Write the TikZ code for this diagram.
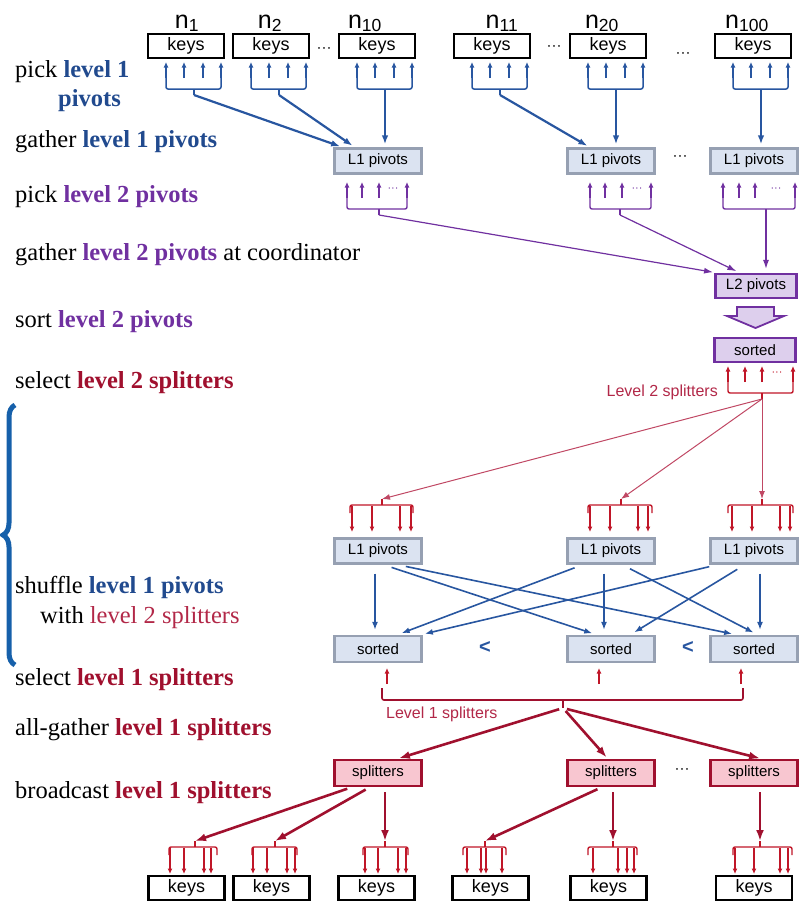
\documentclass[tikz,border=0pt]{standalone}
\usepackage{fontspec}
\setmainfont{Liberation Serif}
\setsansfont{Liberation Sans}
\usetikzlibrary{arrows.meta,decorations.pathreplacing}

\definecolor{pvblue}{RGB}{33,74,142}
\definecolor{arblue}{RGB}{40,86,160}
\definecolor{brblue}{RGB}{22,96,170}
\definecolor{pvpurple}{RGB}{112,48,160}
\definecolor{spred}{RGB}{160,16,46}
\definecolor{arred}{RGB}{192,22,40}
\definecolor{lnred}{RGB}{192,72,100}
\definecolor{sptext}{RGB}{178,40,72}
\definecolor{pvfill}{RGB}{219,227,241}
\definecolor{pvedge}{RGB}{150,160,178}
\definecolor{lvfill}{RGB}{221,207,237}
\definecolor{spfill}{RGB}{248,198,208}

\newcommand{\lvblue}[1]{\textcolor{pvblue}{\textbf{#1}}}
\newcommand{\lvpurple}[1]{\textcolor{pvpurple}{\textbf{#1}}}
\newcommand{\lvred}[1]{\textcolor{spred}{\textbf{#1}}}

% arrows up into a box, tied by a bracket below
\newcommand{\upgroup}[7]{%
  \foreach \x in {#3} \draw[#1, -{Latex[length=5.5pt,width=5pt]}] (\x,#2+16) -- (\x,#2);
  \draw[#1, rounded corners=2pt] (#4,#2+16) -- (#4,#2+27) -- (#5,#2+27) -- (#5,#2+16);
  \draw[#1] (#6,#2+27) -- (#6,#2+33);
  \coordinate (#7) at (#6,#2+33);}

% arrows down into a box, from a bracket above
\newcommand{\downgroup}[7]{%
  \foreach \x in {#3} \draw[#1, -{Latex[length=5.5pt,width=5pt]}] (\x,#2+1) -- (\x,#2+27);
  \draw[#1, rounded corners=2pt] (#4,#2+8) -- (#4,#2) -- (#5,#2) -- (#5,#2+8);
  \draw[#1] (#6,#2) -- (#6,#2-6);
  \coordinate (#7) at (#6,#2-6);}

\begin{document}
\begin{tikzpicture}[x=1pt, y=-1pt,
    keysbox/.style={draw=black, line width=2.4pt, fill=white, minimum width=76pt,
      minimum height=24pt, inner sep=0pt, font=\sffamily\fontsize{18}{18}\selectfont},
    pivbox/.style={draw=pvedge, line width=2.2pt, fill=pvfill, minimum width=87pt,
      minimum height=25pt, inner sep=0pt, font=\sffamily\fontsize{15}{15}\selectfont},
    lvbox/.style={pivbox, draw=pvpurple, fill=lvfill, minimum width=81pt, minimum height=24pt},
    splitbox/.style={pivbox, draw=spred, fill=spfill, minimum height=26pt},
    nlabel/.style={anchor=base, font=\sffamily\fontsize{25}{25}\selectfont},
    stepline/.style={anchor=base west, inner sep=0pt, font=\fontsize{24.5}{26}\selectfont},
    dotsnode/.style={inner sep=0pt, font=\sffamily\fontsize{15}{15}\selectfont},
    toparr/.style={arblue, line width=2.2pt, -{Latex[length=9pt,width=6.5pt]}, shorten >=3pt},
    purparr/.style={pvpurple, line width=1.2pt, -{Latex[length=9pt,width=6pt]}, shorten >=4pt},
    thinarr/.style={lnred, line width=1pt, -{Latex[length=8pt,width=6pt]}},
    crossarr/.style={arblue, line width=1.6pt, -{Latex[length=8pt,width=6pt]},
      shorten <=9pt, shorten >=5pt},
    thickarr/.style={spred, line width=2.6pt, -{Latex[length=11pt,width=8pt]}}]
  \useasboundingbox (0,0) rectangle (799,903);

  % steps on the left
  \node[stepline] (pick1) at (15,77) {pick \lvblue{level 1}};
  \node[stepline] (pick1b) at (58,106) {\lvblue{pivots}};
  \node[stepline] (gather1) at (15,147) {gather \lvblue{level 1 pivots}};
  \node[stepline] (pick2) at (15,202) {pick \lvpurple{level 2 pivots}};
  \node[stepline] (gather2) at (15,260) {gather \lvpurple{level 2 pivots} at coordinator};
  \node[stepline] (sort2) at (15,327) {sort \lvpurple{level 2 pivots}};
  \node[stepline] (select2) at (15,388) {select \lvred{level 2 splitters}};
  \node[stepline] (shuffle) at (15,593) {shuffle \lvblue{level 1 pivots}};
  \node[stepline] (shufflew) at (40,623) {with \textcolor{sptext}{level 2 splitters}};
  \node[stepline] (select1) at (15,685) {select \lvred{level 1 splitters}};
  \node[stepline] (allgather) at (15,735) {all-gather \lvred{level 1 splitters}};
  \node[stepline] (bcast) at (15,798) {broadcast \lvred{level 1 splitters}};
  \draw[brblue, line width=5pt, decorate, decoration={brace, amplitude=12pt, aspect=0.5}]
    (15,665) -- (15,405);

  % keys and level 1 pivots
  \foreach \c [count=\i] in {186,271,377,492,608,753} {
    \node[keysbox] (k\i) at (\c,46) {keys};
    \upgroup{arblue, line width=1.5pt}{62}{\c-20,\c-2,\c+17,\c+35}{\c-20}{\c+35}{\c+8}{g\i}
  }
  \node[nlabel] (n1) at (187,28) {n\textsubscript{1}};
  \node[nlabel] (n2) at (270,28) {n\textsubscript{2}};
  \node[nlabel] (n10) at (365,28) {n\textsubscript{10}};
  \node[nlabel] (n11) at (502,28) {n\textsubscript{11}};
  \node[nlabel] (n20) at (602,28) {n\textsubscript{20}};
  \node[nlabel] (n100) at (747,28) {n\textsubscript{100}};
  \node[dotsnode] (kd1) at (324,50) {···};
  \node[dotsnode] (kd2) at (554,48) {···};
  \node[dotsnode] (kd3) at (683,55) {···};

  \node[pivbox] (p1) at (378,161) {L1 pivots};
  \node[pivbox] (p2) at (611,161) {L1 pivots};
  \node[pivbox] (p3) at (754,161) {L1 pivots};
  \node[dotsnode] (pd) at (680,158) {···};
  \draw[toparr] (g1) -- ([xshift=-35pt]p1.north);
  \draw[toparr] (g2) -- ([xshift=-23pt]p1.north);
  \draw[toparr] (g3) -- ([xshift=7pt]p1.north);
  \draw[toparr] (g4) -- ([xshift=-21pt]p2.north);
  \draw[toparr] (g5) -- ([xshift=5pt]p2.north);
  \draw[toparr] (g6) -- ([xshift=7pt]p3.north);

  % level 2 pivots
  \upgroup{pvpurple, line width=1.4pt}{182}{347,362,379,407}{347}{407}{379}{h1}
  \upgroup{pvpurple, line width=1.4pt}{182}{590,605,622,651}{590}{651}{620}{h2}
  \upgroup{pvpurple, line width=1.4pt}{182}{723,739,755,795}{723}{795}{766}{h3}
  \node[dotsnode, pvpurple, font=\sffamily\fontsize{11}{11}\selectfont] (hd1) at (393,190) {···};
  \node[dotsnode, pvpurple, font=\sffamily\fontsize{11}{11}\selectfont] (hd2) at (637,190) {···};
  \node[dotsnode, pvpurple, font=\sffamily\fontsize{11}{11}\selectfont] (hd3) at (776,190) {···};

  \node[lvbox] (l2) at (756,286) {L2 pivots};
  \draw[purparr] (h1) -- ([xshift=-39pt]l2.north);
  \draw[purparr] (h2) -- ([xshift=-16pt]l2.north);
  \draw[purparr] (h3) -- ([xshift=10pt]l2.north);
  \draw[pvpurple, line width=1.8pt, fill=lvfill]
    (737,307) -- (774,307) -- (774,316) -- (784,316) -- (755.5,328) -- (727,316) -- (737,316) -- cycle;
  \node[lvbox] (srt) at (755,350) {sorted};

  % level 2 splitters
  \upgroup{arred, line width=1.4pt}{366}{728,745,762,793}{728}{793}{762}{spl2}
  \node[dotsnode, arred, font=\sffamily\fontsize{11}{11}\selectfont] (sd) at (777,374) {···};
  \node[anchor=east, inner sep=0pt, text=sptext, font=\sffamily\fontsize{16}{16}\selectfont]
    (l2txt) at (718,392) {Level 2 splitters};

  \downgroup{arred, line width=1.4pt}{505}{352,372,400,411}{350}{413}{382}{r1}
  \downgroup{arred, line width=1.4pt}{505}{590,610,638,648}{588}{652}{621}{r2}
  \downgroup{arred, line width=1.4pt}{505}{732,752,780,790}{728}{793}{762}{r3}
  \draw[thinarr] (spl2) -- (r1);
  \draw[thinarr] (spl2) -- (r2);
  \draw[thinarr] (spl2) -- (r3);

  % shuffle
  \node[pivbox] (q1) at (378,551) {L1 pivots};
  \node[pivbox] (q2) at (611,551) {L1 pivots};
  \node[pivbox] (q3) at (754,551) {L1 pivots};
  \node[pivbox, minimum height=26pt] (s1) at (378,649) {sorted};
  \node[pivbox, minimum height=26pt] (s2) at (611,649) {sorted};
  \node[pivbox, minimum height=26pt] (s3) at (754,649) {sorted};
  \node[text=arblue, font=\sffamily\bfseries\fontsize{20}{20}\selectfont] (lt1) at (485,647) {<};
  \node[text=arblue, font=\sffamily\bfseries\fontsize{20}{20}\selectfont] (lt2) at (688,647) {<};
  \draw[crossarr] ([xshift=-3pt]q1.south) -- ([xshift=-3pt]s1.north);
  \draw[crossarr] ([xshift=5pt]q1.south) -- ([xshift=-14pt]s2.north);
  \draw[crossarr] ([xshift=19pt]q1.south) -- ([xshift=-17pt]s3.north);
  \draw[crossarr] ([xshift=-28pt]q2.south) -- ([xshift=19pt]s1.north);
  \draw[crossarr] ([xshift=-7pt]q2.south) -- ([xshift=-7pt]s2.north);
  \draw[crossarr] ([xshift=11pt]q2.south) -- ([xshift=4pt]s3.north);
  \draw[crossarr] ([xshift=-36pt]q3.south) -- ([xshift=42pt]s1.north);
  \draw[crossarr] ([xshift=-9pt]q3.south) -- ([xshift=19pt]s2.north);
  \draw[crossarr] ([xshift=6pt]q3.south) -- ([xshift=6pt]s3.north);

  % level 1 splitters
  \foreach \x in {387,599,741}
    \draw[arred, line width=1.4pt, -{Latex[length=5.5pt,width=5pt]}] (\x,684) -- (\x,668);
  \draw[spred, line width=1.6pt, rounded corners=2pt] (382,688) -- (382,700) -- (743,700) -- (743,688);
  \draw[spred, line width=1.6pt] (563,700) -- (563,708);
  \coordinate (spl1) at (563,708);
  \node[anchor=west, inner sep=0pt, text=sptext, font=\sffamily\fontsize{16}{16}\selectfont]
    (l1txt) at (386,714) {Level 1 splitters};

  \node[splitbox] (sp1) at (378,773) {splitters};
  \node[splitbox] (sp2) at (611,773) {splitters};
  \node[splitbox] (sp3) at (754,773) {splitters};
  \node[dotsnode] (spd) at (682,771) {···};
  \draw[thickarr, shorten <=4pt, shorten >=2pt] (spl1) -- ([xshift=19pt]sp1.north);
  \draw[thickarr, shorten <=4pt, shorten >=2pt] (spl1) -- ([xshift=-3pt]sp2.north);
  \draw[thickarr, shorten <=4pt, shorten >=2pt] (spl1) -- ([xshift=8pt]sp3.north);

  % broadcast to the keys
  \downgroup{arred, line width=1.4pt}{847}{170,184,204,211}{169}{217}{195}{t1}
  \downgroup{arred, line width=1.4pt}{847}{253,267,287,295}{252}{297}{275}{t2}
  \downgroup{arred, line width=1.4pt}{847}{365,378,398,406}{363}{408}{385}{t3}
  \downgroup{arred, line width=1.4pt}{847}{467,481,486,502}{463}{506}{485}{t4}
  \downgroup{arred, line width=1.4pt}{847}{593,618,627,634}{588}{637}{613}{t5}
  \downgroup{arred, line width=1.4pt}{847}{735,754,780,788}{733}{792}{760}{t6}
  \draw[thickarr, shorten <=5pt] ([xshift=-26pt]sp1.south) -- (t1);
  \draw[thickarr, shorten <=5pt] ([xshift=-8pt]sp1.south) -- (t2);
  \draw[thickarr, shorten <=5pt] ([xshift=7pt]sp1.south) -- (t3);
  \draw[thickarr, shorten <=5pt] ([xshift=-9pt]sp2.south) -- (t4);
  \draw[thickarr, shorten <=5pt] ([xshift=2pt]sp2.south) -- (t5);
  \draw[thickarr, shorten <=5pt] ([xshift=6pt]sp3.south) -- (t6);
  \foreach \c [count=\i] in {186.5,271.5,376.5,490.5,608.5,754}
    \node[keysbox] (bk\i) at (\c,888) {keys};
\end{tikzpicture}
\end{document}
